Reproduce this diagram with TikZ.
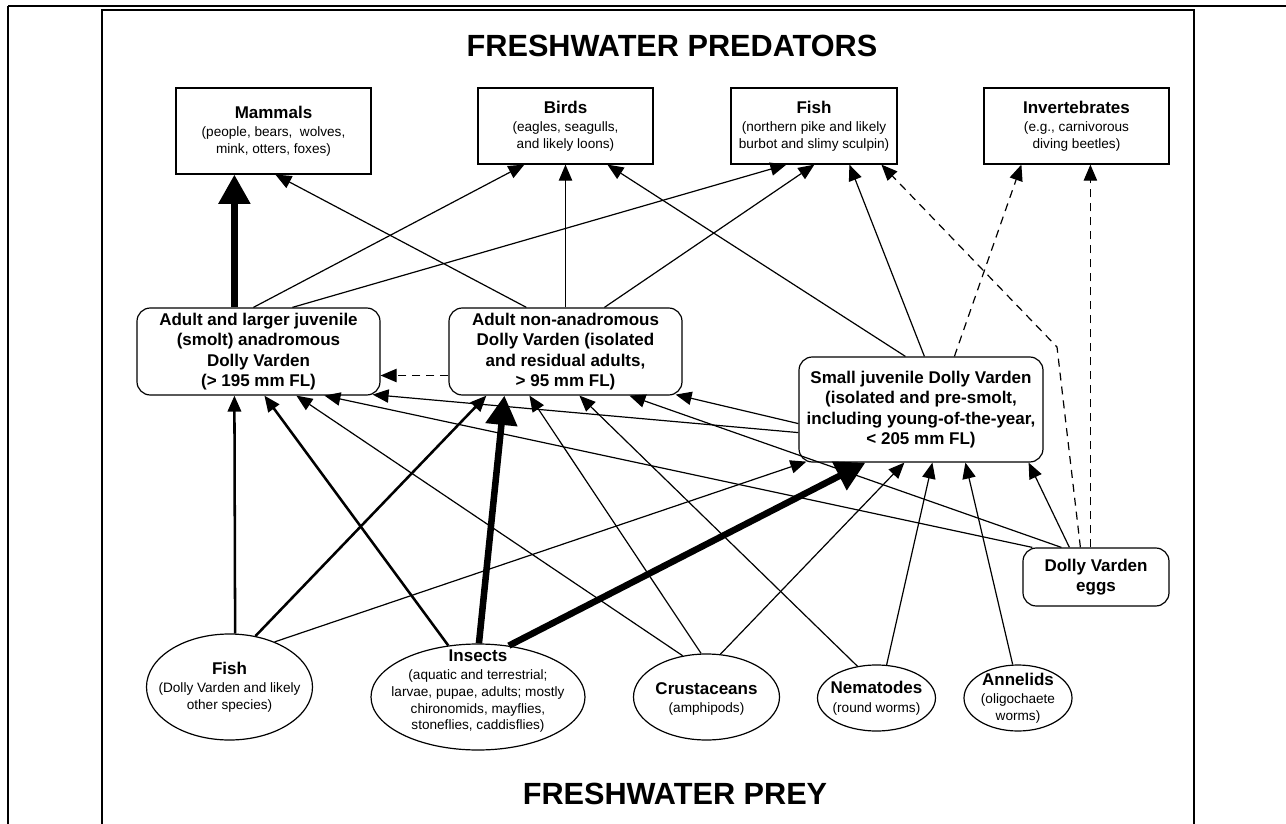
\documentclass[tikz,border=0pt]{standalone}
\usepackage{fontspec}
\setmainfont{Liberation Sans}
\usetikzlibrary{arrows.meta,shapes.geometric,calc}

\newcommand{\hd}[1]{{\bfseries\fontsize{12.75}{15}\selectfont #1}}
\newcommand{\smalltxt}{\fontsize{10.2}{12.5}\selectfont}

\tikzset{
  predbox/.style={draw=black, line width=0.9pt, fill=white, inner sep=0pt, align=center, font=\smalltxt},
  stagebox/.style={draw=black, line width=0.9pt, fill=white, rounded corners=10pt, inner sep=0pt, align=center, font=\bfseries\fontsize{12.75}{15.25}\selectfont},
  preyoval/.style={draw=black, ellipse, line width=0.9pt, inner sep=0pt},
  ovaltext/.style={align=center, font=\smalltxt, inner sep=0pt},
  heading/.style={font=\bfseries\fontsize{23}{27}\selectfont, inner sep=0pt},
  feed/.style={-{Triangle[length=12pt,width=10pt]}, line width=0.9pt},
  feedmed/.style={feed, line width=1.9pt},
  feedbig/.style={-{Triangle[length=22pt,width=23pt]}, line width=4.9pt},
  maybe/.style={feed, dash pattern=on 6pt off 4.5pt}
}

\begin{document}
\begin{tikzpicture}[x=0.75pt,y=0.75pt,yscale=-1,xscale=1]
\useasboundingbox (0,0) rectangle (1286,824);

%Straight Lines: page frame
\draw [line width=1.5pt] (8,5.7) -- (1286,5.7) ;
\draw [line width=1.5pt] (8,5.7) -- (8,824) ;
\draw [line width=1.5pt] (102,824) -- (102,10) -- (1194,10) -- (1194,824) ;

% Text Node
\node[heading] (predtitle) at (672,46) {FRESHWATER PREDATORS};
% Text Node
\node[heading] (preytitle) at (675,794) {FRESHWATER PREY};

%Shape: Rectangle
\node[predbox, minimum width=146.25pt, minimum height=64.5pt] (mammals) at (273.5,131) {\hd{Mammals}\\[1.5pt](people, bears,~ wolves,\\mink, otters, foxes)};
%Shape: Rectangle
\node[predbox, minimum width=131.25pt, minimum height=57pt] (birds) at (565.5,126) {\hd{Birds}\\[1.5pt](eagles, seagulls,\\and likely loons)};
%Shape: Rectangle
\node[predbox, minimum width=124.5pt, minimum height=57pt] (fishpred) at (814,126) {\hd{Fish}\\[1.5pt](northern pike and likely\\burbot and slimy sculpin)};
%Shape: Rectangle
\node[predbox, minimum width=138.75pt, minimum height=57pt] (invert) at (1076.5,126) {\hd{Invertebrates}\\[1.5pt](e.g., carnivorous\\diving beetles)};

%Shape: Rounded Rect
\node[stagebox, minimum width=182.25pt, minimum height=65.25pt] (anad) at (258.5,351.5) {Adult and larger juvenile\\(smolt) anadromous\\Dolly Varden\\(> 195 mm FL)};
%Shape: Rounded Rect
\node[stagebox, minimum width=174.75pt, minimum height=65.25pt] (resid) at (565.5,351.5) {Adult non-anadromous\\Dolly Varden (isolated\\and residual adults,\\> 95 mm FL)};
%Shape: Rounded Rect
\node[stagebox, minimum width=183pt, minimum height=78.75pt] (smalljuv) at (921,409.5) {Small juvenile Dolly Varden\\(isolated and pre-smolt,\\including young-of-the-year,\\< 205 mm FL)};
%Shape: Rounded Rect
\node[stagebox, minimum width=109.5pt, minimum height=43.5pt] (eggs) at (1096,577) {Dolly Varden\\eggs};

%Shape: Ellipse
\node[preyoval, minimum width=124.5pt, minimum height=79.5pt] (fishprey) at (229.5,687) {};
\node[ovaltext] (fishpreyT) at (fishprey) {\hd{Fish}\\[1.5pt](Dolly Varden and likely\\other species)};
%Shape: Ellipse
\node[preyoval, minimum width=160.5pt, minimum height=79.5pt] (insects) at (478,697) {};
\node[ovaltext] (insectsT) at ($(insects)+(0,-6)$) {\hd{Insects}\\[1.5pt](aquatic and terrestrial;\\larvae, pupae, adults; mostly\\chironomids, mayflies,\\stoneflies, caddisflies)};
%Shape: Ellipse
\node[preyoval, minimum width=109.5pt, minimum height=64.5pt] (crust) at (706.5,697) {};
\node[ovaltext] (crustT) at ($(crust)+(0,2)$) {\hd{Crustaceans}\\[1.5pt](amphipods)};
%Shape: Ellipse
\node[preyoval, minimum width=88.5pt, minimum height=49.5pt] (nema) at (876.5,698) {};
\node[ovaltext] (nemaT) at (nema) {\hd{Nematodes}\\[1.5pt](round worms)};
%Shape: Ellipse
\node[preyoval, minimum width=81pt, minimum height=49.5pt] (annel) at (1018,698) {};
\node[ovaltext] (annelT) at (annel) {\hd{Annelids}\\[1.5pt](oligochaete\\worms)};

\coordinate (kink) at (1057,347);

%Straight Lines: eaten by freshwater predators
\draw[feedbig] ($(anad.north west)+(98,0)$) -- ($(mammals.south west)+(59,0)$);
\draw[feed] ($(resid.north west)+(78,0)$) -- ($(mammals.south west)+(100,0)$);
\draw[feed] ($(anad.north west)+(117,0)$) -- ($(birds.south west)+(47,0)$);
\draw[feed] (resid.north) -- (birds.south);
\draw[feed] ($(smalljuv.north west)+(107,0)$) -- ($(birds.south west)+(130,0)$);
\draw[feed] ($(anad.north west)+(156,0)$) -- ($(fishpred.south west)+(56,0)$);
\draw[feed] ($(resid.north west)+(156,0)$) -- ($(fishpred.south west)+(84,0)$);
\draw[feed] ($(smalljuv.north west)+(126,0)$) -- ($(fishpred.south west)+(119,0)$);
\draw[maybe] ($(eggs.north west)+(58,0)$) -- (kink) -- ($(fishpred.south west)+(151,0)$);
\draw[maybe] ($(smalljuv.north west)+(156,0)$) -- ($(invert.south west)+(38,0)$);
\draw[maybe] ($(eggs.north west)+(68,0)$) -- ($(invert.south west)+(107,0)$);
\draw[maybe] ($(resid.west)+(0,24)$) -- ($(anad.east)+(0,24)$);

%Straight Lines: freshwater prey
\draw[feedmed] (fishprey.84) -- ($(anad.south west)+(98,0)$);
\draw[feedmed] (fishprey.63) -- ($(resid.south west)+(38,0)$);
\draw[feed] (fishprey.45) -- ($(smalljuv.south west)+(8,-1)$);
\draw[feedmed] (insects.120) -- ($(anad.south west)+(128,0)$);
\draw[feedbig] (insects.89) -- ($(resid.south west)+(56,0)$);
\draw[feedbig] (insects.59) -- ($(smalljuv.south west)+(67,0)$);
\draw[feed] (crust.120) -- ($(anad.south west)+(160,0)$);
\draw[feed] (crust.97) -- ($(resid.south west)+(81,0)$);
\draw[feed] (crust.72) -- ($(smalljuv.south west)+(106,0)$);
\draw[feed] (nema.121) -- ($(resid.south west)+(131,0)$);
\draw[feed] (nema.73) -- ($(smalljuv.south west)+(134,0)$);
\draw[feed] (annel.99) -- ($(smalljuv.south west)+(167,0)$);

%Straight Lines: eggs and small juveniles as prey
\draw[feed] ($(eggs.north west)+(10,0)$) -- ($(anad.south west)+(188,0)$);
\draw[feed] ($(eggs.north west)+(39,0)$) -- ($(resid.south west)+(181,0)$);
\draw[feed] ($(eggs.north west)+(47,0)$) -- ($(smalljuv.south east)+(-15,0)$);
\draw[feed] ($(smalljuv.south west)+(0,-30)$) -- ($(anad.south east)+(-8,-1)$);
\draw[feed] ($(smalljuv.south west)+(0,-39)$) -- ($(resid.south east)+(-7,-1)$);

\end{tikzpicture}
\end{document}
